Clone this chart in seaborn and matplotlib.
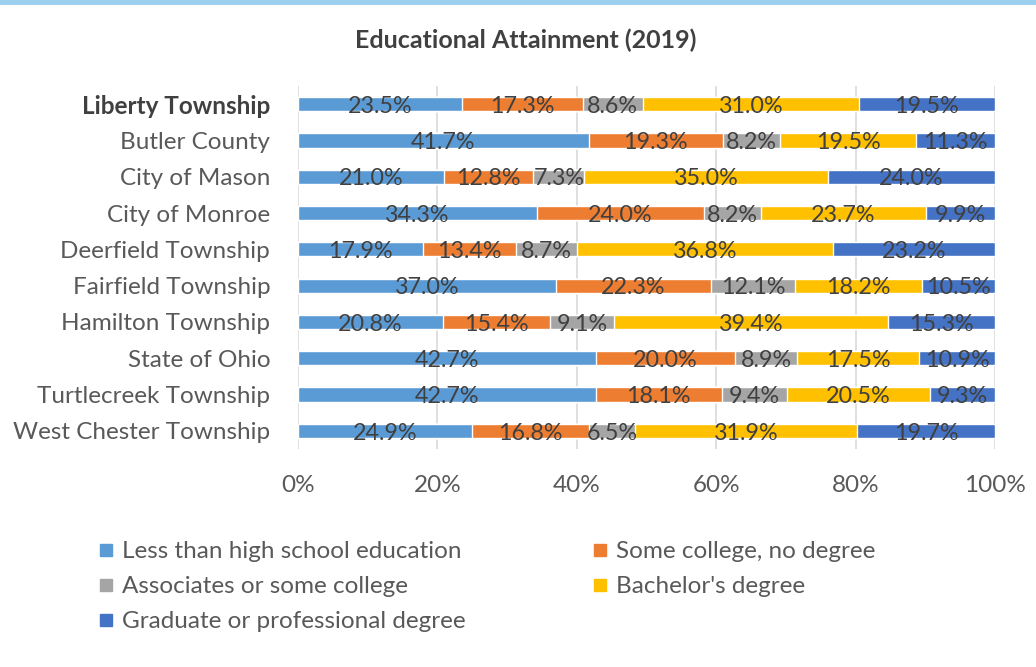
import numpy as np
import pandas as pd
import matplotlib
matplotlib.use("Agg")
import matplotlib.pyplot as plt
from matplotlib.patches import Rectangle
from matplotlib.lines import Line2D
import seaborn as sns

places = ["Liberty Township", "Butler County", "City of Mason", "City of Monroe",
          "Deerfield Township", "Fairfield Township", "Hamilton Township",
          "State of Ohio", "Turtlecreek Township", "West Chester Township"]

levels = ["Less than high school education", "Some college, no degree",
          "Associates or some college", "Bachelor's degree",
          "Graduate or professional degree"]

less_than_hs = [23.5, 41.7, 21.0, 34.3, 17.9, 37.0, 20.8, 42.7, 42.7, 24.9]
some_college = [17.3, 19.3, 12.8, 24.0, 13.4, 22.3, 15.4, 20.0, 18.1, 16.8]
associates   = [8.6, 8.2, 7.3, 8.2, 8.7, 12.1, 9.1, 8.9, 9.4, 6.5]
bachelors    = [31.0, 19.5, 35.0, 23.7, 36.8, 18.2, 39.4, 17.5, 20.5, 31.9]
graduate     = [19.5, 11.3, 24.0, 9.9, 23.2, 10.5, 15.3, 10.9, 9.3, 19.7]

colors = ["#5B9BD5", "#ED7D31", "#A5A5A5", "#FFC000", "#4472C4"]

sns.set_theme(style="white")
plt.rcParams["font.family"] = ["Lato", "DejaVu Sans"]

values = np.array([less_than_hs, some_college, associates, bachelors, graduate])
shares = values / values.sum(axis=0)          # 100% stacked
cum = np.cumsum(shares, axis=0)
starts = cum - shares

fig = plt.figure(figsize=(10.36, 6.67), dpi=100)
fig.patch.set_facecolor("white")
ax = fig.add_axes([298 / 1036, 1 - 449 / 667, (995 - 298) / 1036, (449 - 86) / 667])

# stacked bars: draw cumulative totals from the last segment back to the first
for i in range(len(levels) - 1, -1, -1):
    df = pd.DataFrame({"place": places, "value": cum[i]})
    sns.barplot(data=df, x="value", y="place", orient="h", color=colors[i],
                width=0.39, saturation=1, ax=ax, zorder=2)

# value labels centred in each segment
for i in range(len(levels)):
    for j in range(len(places)):
        ax.text(starts[i, j] + shares[i, j] / 2, j + 0.06, f"{values[i, j]:.1f}%",
                ha="center", va="center", fontsize=16.8, color="#404040", zorder=3)

ax.set_xlim(0, 1)
ax.set_ylim(len(places) - 0.5, -0.5)
ax.set_xticks(np.linspace(0, 1, 6))
ax.set_xticklabels([f"{int(t)}%" for t in np.linspace(0, 100, 6)])
ax.xaxis.grid(True, color="#D9D9D9", linewidth=1.2, zorder=0)
ax.set_axisbelow(True)
ax.set_xlabel("")
ax.set_ylabel("")
for s in ax.spines.values():
    s.set_visible(False)
ax.tick_params(axis="x", length=0, pad=19, labelsize=17.5, labelcolor="#595959")
ax.tick_params(axis="y", length=0, pad=20, labelsize=17.5, labelcolor="#595959")
for lbl in ax.get_yticklabels():
    if lbl.get_text() == "Liberty Township":
        lbl.set_fontweight("bold")
        lbl.set_color("#404040")

fig.text(526 / 1036, 1 - 40 / 667, "Educational Attainment (2019)", ha="center",
         va="center", fontsize=18, fontweight="bold", color="#404040")

# thin banner across the top
fig.patches.append(Rectangle((0, 1 - 5 / 667), 1, 5 / 667, transform=fig.transFigure,
                             facecolor="#9DCFEF", edgecolor="none", zorder=0))

handles = [Line2D([], [], marker="s", linestyle="none", markersize=8.6,
                  markerfacecolor=c, markeredgecolor=c) for c in colors]
order = [0, 2, 4, 1, 3]
fig.legend([handles[k] for k in order], [levels[k] for k in order],
           loc="upper left", bbox_to_anchor=(97.5 / 1036, 1 - 541 / 667), ncol=2,
           frameon=False, fontsize=17.5, labelcolor="#595959", handletextpad=0.3,
           handlelength=0.7, columnspacing=5.2, labelspacing=0.58, borderpad=0,
           borderaxespad=0)

fig.savefig("out.png", dpi=100, facecolor="white")
